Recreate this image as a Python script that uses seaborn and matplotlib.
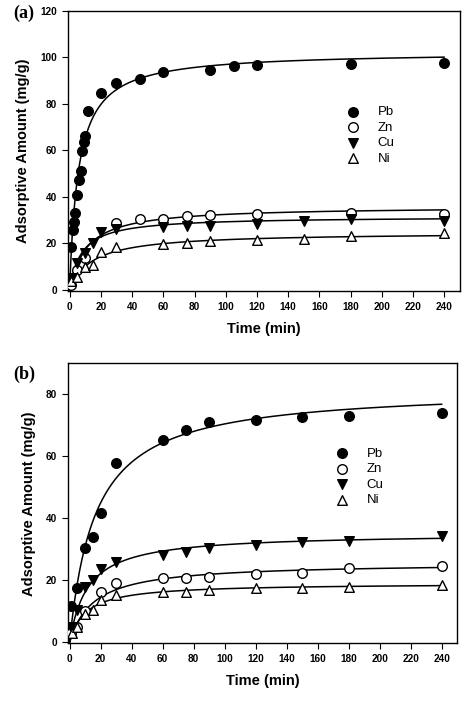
import numpy as np
import pandas as pd
import matplotlib
matplotlib.use("Agg")
import matplotlib.pyplot as plt
import seaborn as sns

# ===============================
# 1. Data
# ===============================

metals = ["Pb", "Zn", "Cu", "Ni"]

# panel (a)
a_pb_t = [1, 2, 3, 3.5, 4.5, 6, 7, 8, 9, 10, 12, 20, 30, 45, 60, 90, 105, 120, 180, 240]
a_pb_q = [18.6, 25.8, 29.3, 32.9, 40.8, 47.2, 51, 59.7, 63.7, 66.2, 76.8, 84.8, 88.7,
          90.8, 93.5, 94.5, 96, 96.5, 97, 97.7]
a_zn_t = [1, 5, 10, 30, 45, 60, 75, 90, 120, 180, 240]
a_zn_q = [2.1, 8.6, 13.6, 28.9, 30.5, 30.4, 31.8, 32.2, 32.5, 32.9, 32.6]
a_cu_t = [1, 5, 10, 15, 20, 30, 60, 75, 90, 120, 150, 180, 240]
a_cu_q = [5, 11.5, 15.7, 20, 25, 26, 26.8, 27.6, 27.6, 28.4, 29.4, 30.4, 29.6]
a_ni_t = [1, 5, 10, 15, 20, 30, 60, 75, 90, 120, 150, 180, 240]
a_ni_q = [4, 5.7, 10, 10.5, 16.2, 18.6, 19.6, 20.3, 21.2, 21.5, 22, 23.2, 24.3]

# panel (b)
b_pb_t = [1, 5, 10, 15, 20, 30, 60, 75, 90, 120, 150, 180, 240]
b_pb_q = [11.8, 17.5, 30.3, 34.1, 41.8, 57.9, 65.4, 68.4, 71, 71.6, 72.7, 73.1, 73.9]
b_zn_t = [1, 5, 10, 20, 30, 60, 75, 90, 120, 150, 180, 240]
b_zn_q = [3, 5.1, 10, 16.3, 19.3, 20.9, 20.7, 21.2, 21.9, 22.5, 23.9, 24.7]
b_cu_t = [1, 5, 10, 15, 20, 30, 60, 75, 90, 120, 150, 180, 240]
b_cu_q = [5, 10.5, 17.8, 20.2, 23.6, 26, 28.2, 29.3, 30.3, 31.4, 32.3, 32.7, 34.3]
b_ni_t = [1.5, 5, 10, 15, 20, 30, 60, 75, 90, 120, 150, 180, 240]
b_ni_q = [3, 5, 9.1, 10.5, 13.7, 15.3, 16.2, 16.4, 16.9, 17.4, 17.5, 18, 18.6]

# fitted kinetic curves q = qe * t / (h + t), parameters estimated from the drawn lines
a_fit_qe = [102.4, 35.9, 31.5, 24.7]
a_fit_h = [5.7, 10.7, 7.7, 14.6]
b_fit_qe = [82.1, 25.7, 35.2, 19.1]
b_fit_h = [16.5, 15.3, 11.7, 10.3]

x_ticks = list(range(0, 241, 20))
a_y_ticks = list(range(0, 121, 20))
b_y_ticks = list(range(0, 81, 20))


def make_points(ts, qs):
    rows = []
    for m, t, q in zip(metals, ts, qs):
        rows += [{"metal": m, "time": ti, "q": qi} for ti, qi in zip(t, q)]
    return pd.DataFrame(rows)


def make_fits(qes, hs):
    t = np.linspace(0, 240, 300)
    rows = []
    for m, qe, h in zip(metals, qes, hs):
        rows.append(pd.DataFrame({"metal": m, "time": t, "q": qe * t / (h + t)}))
    return pd.concat(rows, ignore_index=True)


pts_a = make_points([a_pb_t, a_zn_t, a_cu_t, a_ni_t], [a_pb_q, a_zn_q, a_cu_q, a_ni_q])
pts_b = make_points([b_pb_t, b_zn_t, b_cu_t, b_ni_t], [b_pb_q, b_zn_q, b_cu_q, b_ni_q])
fit_a = make_fits(a_fit_qe, a_fit_h)
fit_b = make_fits(b_fit_qe, b_fit_h)

# ===============================
# 2. Style
# ===============================

sns.set_style("ticks")
plt.rcParams["font.family"] = ["Liberation Sans", "DejaVu Sans"]
for key in ["text.color", "axes.labelcolor", "xtick.color", "ytick.color", "axes.edgecolor"]:
    plt.rcParams[key] = "black"

marker_style = {
    "Pb": dict(marker="o", facecolor="black"),
    "Zn": dict(marker="o", facecolor="white"),
    "Cu": dict(marker="v", facecolor="black"),
    "Ni": dict(marker="^", facecolor="white"),
}

fig = plt.figure(figsize=(4.74, 7.16), dpi=100)
ax_a = fig.add_axes([0.1435, 0.5936, 0.827, 0.3915])
ax_b = fig.add_axes([0.1435, 0.1015, 0.8215, 0.391])


def draw_panel(ax, pts, fits, y_ticks, ylim, legend_pos):
    sns.lineplot(data=fits, x="time", y="q", units="metal", estimator=None,
                 color="black", linewidth=1.1, legend=False, ax=ax)
    for m in metals:
        st = marker_style[m]
        sns.scatterplot(data=pts[pts["metal"] == m], x="time", y="q",
                        marker=st["marker"], color=st["facecolor"],
                        edgecolor="black", linewidth=1.0, s=48, label=m,
                        ax=ax, zorder=3)
    ax.set_xlim(-1, 250)
    ax.set_ylim(*ylim)
    ax.set_xticks(x_ticks)
    ax.set_yticks(y_ticks)
    ax.tick_params(direction="out", length=4, width=0.8, labelsize=7.2, pad=4)
    for lab in ax.get_xticklabels() + ax.get_yticklabels():
        lab.set_fontweight("bold")
    ax.set_xlabel("Time (min)", fontsize=10.5, fontweight="bold", labelpad=7)
    ax.set_ylabel("Adsorptive Amount (mg/g)", fontsize=10.5, fontweight="bold",
                  labelpad=7)
    for sp in ax.spines.values():
        sp.set_linewidth(1.0)
    ax.legend(loc="upper left", bbox_to_anchor=legend_pos, frameon=False,
              fontsize=9.5, handletextpad=0.9, labelspacing=0.25,
              borderaxespad=0)


draw_panel(ax_a, pts_a, fit_a, a_y_ticks, (-0.5, 120), (0.679, 0.679))
draw_panel(ax_b, pts_b, fit_b, b_y_ticks, (-0.3, 90), (0.655, 0.718))

# panel tags
fig.text(13 / 474, 1 - 13 / 716, "(a)", fontsize=13, fontweight="bold",
         family="Liberation Serif", va="center", ha="left")
fig.text(13 / 474, 1 - 374 / 716, "(b)", fontsize=13, fontweight="bold",
         family="Liberation Serif", va="center", ha="left")

fig.savefig("out.png", dpi=100, facecolor="white")
